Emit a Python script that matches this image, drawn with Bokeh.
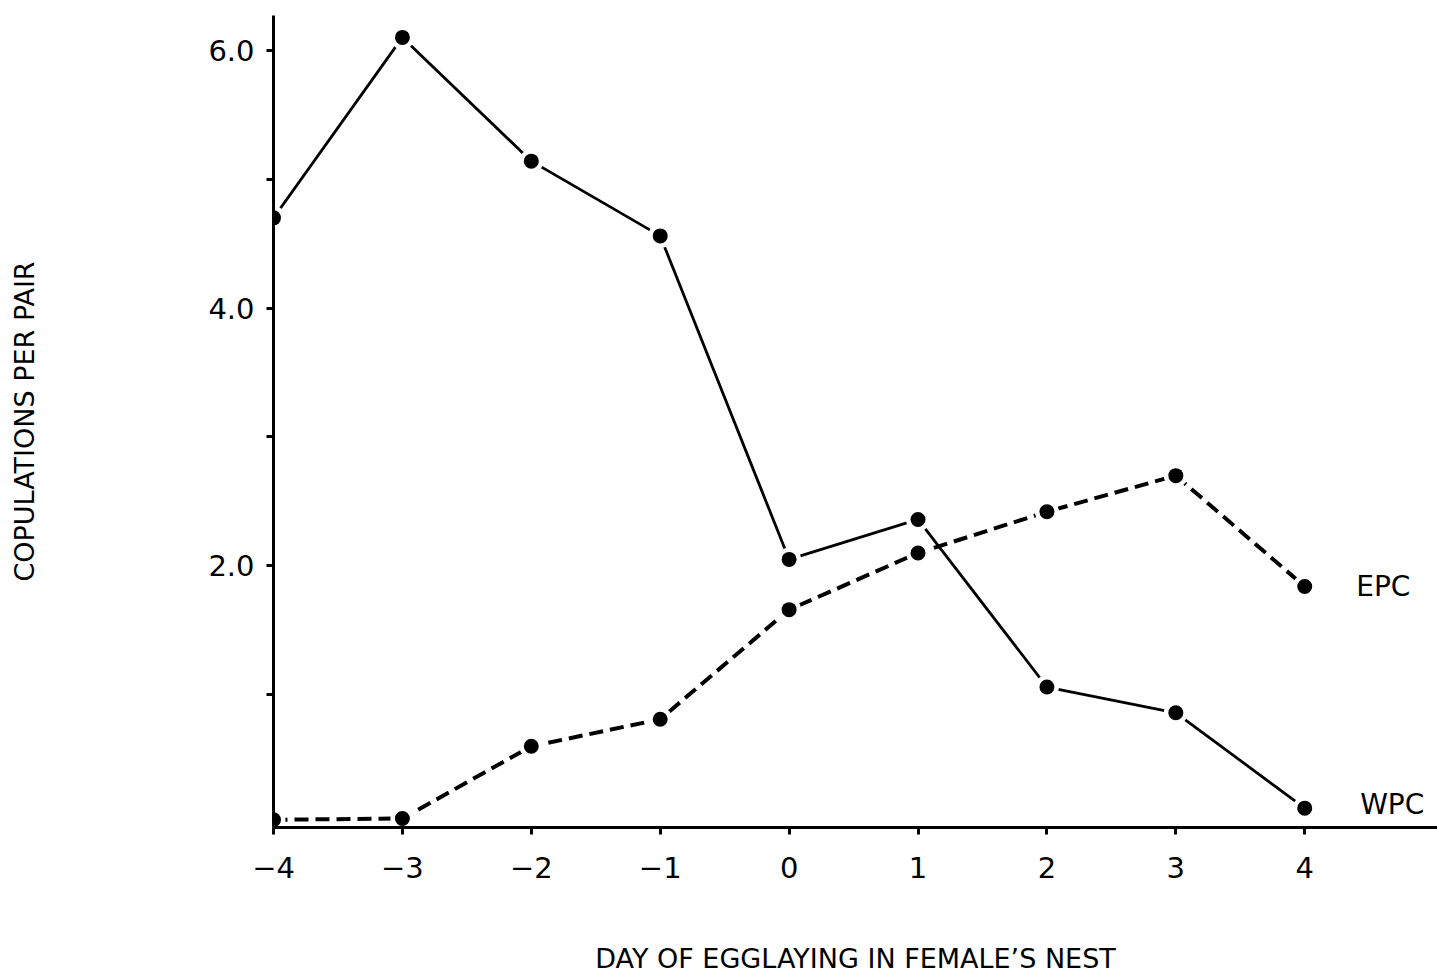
from bokeh.plotting import figure
from bokeh.models import FixedTicker, Range1d
from bokeh.core.properties import value
from bokeh.embed import file_html
from bokeh.resources import INLINE

days = [-4, -3, -2, -1, 0, 1, 2, 3, 4]
wpc = [4.70, 6.10, 5.14, 4.56, 2.05, 2.36, 1.06, 0.86, 0.12]
epc = [0.03, 0.04, 0.60, 0.81, 1.66, 2.10, 2.42, 2.70, 1.84]
x_ticks = [-4, -3, -2, -1, 0, 1, 2, 3, 4]
x_tick_labels = ["\u22124", "\u22123", "\u22122", "\u22121", "0", "1", "2", "3", "4"]
y_ticks = [1, 2, 3, 4, 5, 6]
y_tick_labels = ["", "2.0", "", "4.0", "", "6.0"]
series_labels = ["EPC", "WPC"]
series_label_x = [4.40, 4.43]
series_label_y = [1.84, 0.15]

FONT = "DejaVu Sans"

p = figure(width=1437, height=976, output_backend="svg", toolbar_location=None,
           x_range=Range1d(-4.0, 5.03), y_range=Range1d(-0.03, 6.27),
           min_border_left=273, min_border_right=0, min_border_top=15, min_border_bottom=148)
p.outline_line_color = None
p.xgrid.visible = False
p.ygrid.visible = False

# lines
p.line(days, wpc, line_color="black", line_width=2.8)
p.line(days, epc, line_color="black", line_width=4, line_dash="14 7")
# white halos around markers to mimic gaps
p.scatter(days, wpc, size=24, fill_color="white", line_color=None)
p.scatter(days, epc, size=24, fill_color="white", line_color=None)
p.scatter(days, wpc, size=15, fill_color="black", line_color=None)
p.scatter(days, epc, size=15, fill_color="black", line_color=None)

p.text(series_label_x, series_label_y, text=series_labels, text_font=value(FONT),
       text_font_size="28px", text_baseline="middle", text_align="left", text_color="black")

# axes
p.xaxis.ticker = FixedTicker(ticks=x_ticks)
p.xaxis.major_label_overrides = {t: l for t, l in zip(x_ticks, x_tick_labels)}
p.yaxis.ticker = FixedTicker(ticks=y_ticks)
p.yaxis.major_label_overrides = {t: l for t, l in zip(y_ticks, y_tick_labels)}
for ax in (p.xaxis, p.yaxis):
    ax.axis_line_width = 3
    ax.axis_line_color = "black"
    ax.major_tick_line_width = 3
    ax.major_tick_in = 0
    ax.major_tick_out = 7
    ax.minor_tick_line_color = None
    ax.major_label_text_font = FONT
    ax.major_label_text_font_size = "29px"
    ax.major_label_text_color = "black"
    ax.axis_label_text_font = FONT
    ax.axis_label_text_font_size = "27px"
    ax.axis_label_text_font_style = "normal"
    ax.axis_label_text_color = "black"

p.xaxis.axis_label = "DAY OF EGGLAYING IN FEMALE\u2019S NEST"
p.xaxis.major_label_standoff = 22
p.xaxis.axis_label_standoff = 62
p.yaxis.axis_label = "COPULATIONS PER PAIR"
p.yaxis.major_label_standoff = 12
p.yaxis.axis_label_standoff = 165

open("out.html", "w").write(file_html(p, INLINE))
